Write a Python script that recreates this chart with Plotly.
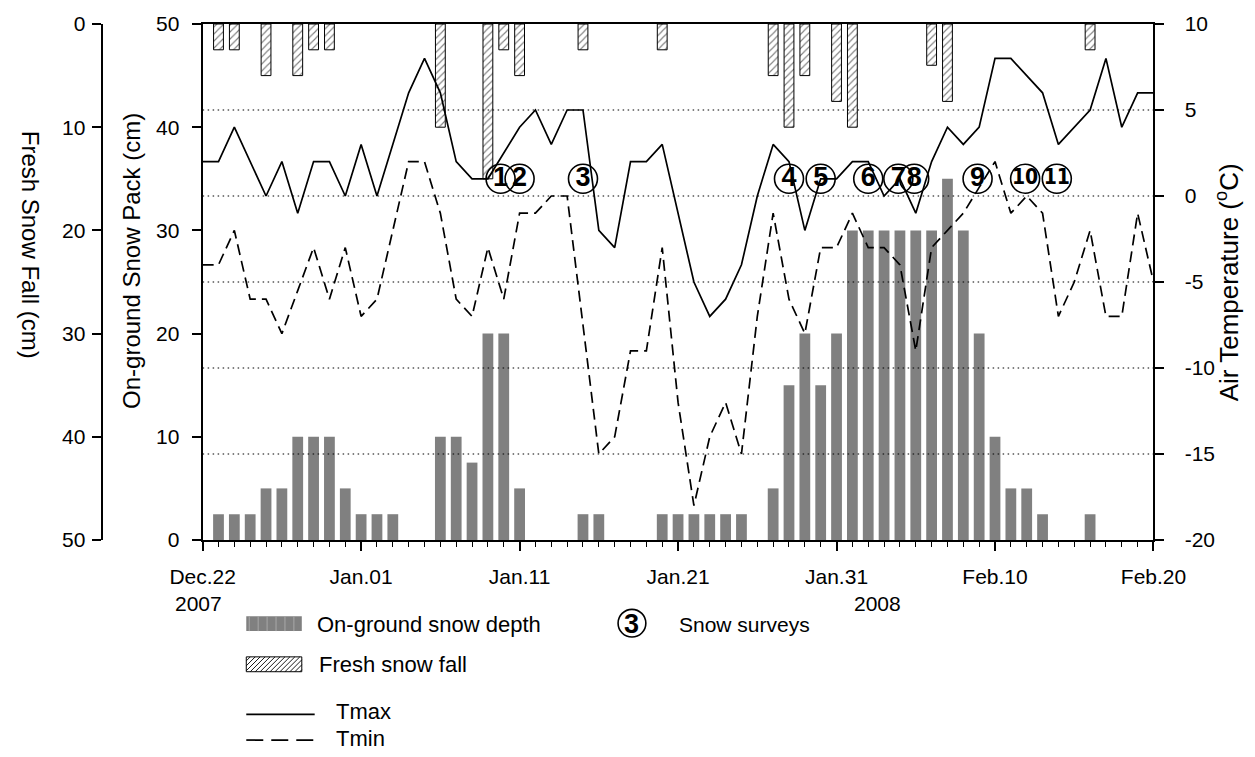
import plotly.graph_objects as go

# ---------------- data ----------------
day_index = list(range(61))  # 0 = Dec.22 2007 ... 60 = Feb.20 2008
date_tick_days = [0, 10, 20, 30, 40, 50, 60]
date_tick_labels = ["Dec.22", "Jan.01", "Jan.11", "Jan.21", "Jan.31", "Feb.10", "Feb.20"]

# on-ground snow depth (cm), one value per day
snow_depth = [0, 2.5, 2.5, 2.5, 5, 5, 10, 10, 10, 5, 2.5, 2.5, 2.5, 0, 0,
              10, 10, 7.5, 20, 20, 5, 0, 0, 0, 2.5, 2.5, 0, 0, 0,
              2.5, 2.5, 2.5, 2.5, 2.5, 2.5, 0,
              5, 15, 20, 15, 20, 30, 30, 30, 30, 30, 30, 35, 30, 20, 10, 5, 5, 2.5,
              0, 0, 2.5, 0, 0, 0, 0]

# fresh snow fall (cm), one value per day
fresh_snow = [0, 2.5, 2.5, 0, 5, 0, 5, 2.5, 2.5, 0,
              0, 0, 0, 0, 0, 10, 0, 0, 15, 2.5,
              5, 0, 0, 0, 2.5, 0, 0, 0, 0, 2.5,
              0, 0, 0, 0, 0, 0, 5, 10, 5, 0,
              7.5, 10, 0, 0, 0, 0, 4, 7.5, 0, 0,
              0, 0, 0, 0, 0, 0, 2.5, 0, 0, 0,
              0]

# daily air temperature (deg C)
t_max = [2, 2, 4, 2, 0, 2, -1, 2, 2, 0,
         3, 0, 3, 6, 8, 6, 2, 1, 1, 2.5,
         4, 5, 3, 5, 5, -2, -3, 2, 2, 3,
         -1, -5, -7, -6, -4, 0, 3, 2, -2, 1,
         1, 2, 2, 0, 1, -1, 2, 4, 3, 4,
         8, 8, 7, 6, 3, 4, 5, 8, 4, 6,
         6]
t_min = [-4, -4, -2, -6, -6, -8, -5.5, -3, -6, -3,
         -7, -6, -2, 2, 2, -1, -6, -7, -3, -6,
         -1, -1, 0, 0, -7.5, -15, -14, -9, -9, -3,
         -12, -18, -14, -12, -15, -7, -1, -6, -8, -3,
         -3, -1, -3, -3, -4, -9, -3, -2, -1, 0.5,
         2, -1, 0, -1, -7, -5, -2, -7, -7, -1,
         -5]

# snow surveys
survey_labels = ["1", "2", "3", "4", "5", "6", "7", "8", "9", "10", "11"]
survey_days = [18.8, 20, 24, 37, 39, 42, 43.9, 44.9, 48.9, 51.9, 53.9]
survey_temp = [1] * 11

pack_ticks = [0, 10, 20, 30, 40, 50]
fall_ticks = [0, 10, 20, 30, 40, 50]
temp_ticks = [10, 5, 0, -5, -10, -15, -20]
temp_grid = [5, 0, -5, -10, -15]

# ---------------- layout geometry ----------------
W, H = 1255, 757
ML, MR, MT, MB = 40, 40, 19, 217
PW = W - ML - MR
PH = H - MT - MB


def fx(px):
    return (px - ML) / PW


def fy(py):
    return (H - MB - py) / PH


X_DOM = [fx(199), fx(1158)]
FONT = "Liberation Sans, Arial, sans-serif"
NARROW = "Liberation Sans Narrow, DejaVu Sans Condensed, Liberation Sans, sans-serif"
TICK_SIZE = 21
KEY_SIZE = 22

fig = go.Figure()

depth_days = [d for d, v in zip(day_index, snow_depth) if v > 0]
depth_vals = [v for v in snow_depth if v > 0]
fig.add_trace(go.Bar(
    x=depth_days, y=depth_vals, width=0.68, yaxis="y",
    marker=dict(color="#808080", line=dict(width=0)),
))

fall_days = [d for d, v in zip(day_index, fresh_snow) if v > 0]
fall_vals = [v for v in fresh_snow if v > 0]
fig.add_trace(go.Bar(
    x=fall_days, y=fall_vals, width=0.62, yaxis="y2",
    marker=dict(color="white", line=dict(color="black", width=1),
                pattern=dict(shape="/", fgcolor="black", bgcolor="white",
                             size=5, solidity=0.22)),
))

fig.add_trace(go.Scatter(
    x=day_index, y=t_max, yaxis="y3", mode="lines",
    line=dict(color="black", width=1.7),
))
fig.add_trace(go.Scatter(
    x=day_index, y=t_min, yaxis="y3", mode="lines",
    line=dict(color="black", width=1.7, dash="11px,6px"),
))

fig.add_trace(go.Scatter(
    x=survey_days, y=survey_temp, yaxis="y3", mode="markers+text",
    text=["<b>%s</b>" % s for s in survey_labels],
    textposition="middle center",
    textfont=dict(family=[FONT if len(s) == 1 else NARROW for s in survey_labels],
                  color="black",
                  size=[27 if len(s) == 1 else 21 for s in survey_labels]),
    marker=dict(symbol="circle-open", size=29, color="black",
                line=dict(width=1.6, color="black")),
))

axis_common = dict(
    showline=True, linecolor="black", linewidth=2, ticks="outside",
    tickcolor="black", tickwidth=1.6, ticklen=9, showgrid=False,
    zeroline=False, tickfont=dict(family=FONT, size=TICK_SIZE, color="black"),
)

fig.update_layout(
    width=W, height=H,
    margin=dict(l=ML, r=MR, t=MT, b=MB),
    paper_bgcolor="white", plot_bgcolor="white",
    showlegend=False, barmode="overlay",
    xaxis=dict(
        domain=X_DOM, range=[0, 60], tickvals=date_tick_days,
        ticktext=date_tick_labels, mirror=True, ticklabelstandoff=8,
        minor=dict(dtick=1, tick0=0, ticks="outside", ticklen=5,
                   tickwidth=1.3, tickcolor="black", showgrid=False),
        **axis_common,
    ),
    yaxis=dict(
        range=[0, 50], tickvals=pack_ticks, anchor="x", side="left",
        ticklabelstandoff=8,
        **axis_common,
    ),
    yaxis2=dict(
        range=[50, 0], tickvals=fall_ticks, overlaying="y", anchor="free",
        position=fx(97), side="left", ticklabelstandoff=2,
        **axis_common,
    ),
    yaxis3=dict(
        range=[-20, 10], tickvals=temp_ticks,
        ticktext=[str(t) for t in temp_ticks], overlaying="y",
        anchor="x", side="right", ticklabelstandoff=16,
        **axis_common,
    ),
)

# dotted temperature reference lines
for t in temp_grid:
    fig.add_shape(type="line", xref="paper", yref="y3",
                  x0=X_DOM[0], x1=X_DOM[1], y0=t, y1=t, layer="above",
                  line=dict(color="black", width=1.2, dash="1.5px,3.5px"))


def note(text, px, py, size, xanchor="center", angle=0, bold=False):
    fig.add_annotation(text=("<b>%s</b>" % text) if bold else text,
                       x=fx(px), y=fy(py), xref="paper", yref="paper",
                       xanchor=xanchor, yanchor="middle", textangle=angle,
                       showarrow=False,
                       font=dict(family=FONT, size=size, color="black"))


# axis titles
note("Fresh Snow Fall (cm)", 25, 242, 24, angle=90)
note("On-ground Snow Pack (cm)", 127, 258, 24, angle=-90)
note("Air Temperature (<sup>o</sup>C)", 1233, 280, 26, angle=-90)

# year labels
note("2007", 195, 604, TICK_SIZE)
note("2008", 880, 604, TICK_SIZE)

# ---------------- key ----------------
sw_x0, sw_x1 = 243, 299
# snow depth swatch
fig.add_shape(type="rect", xref="paper", yref="paper", x0=fx(sw_x0), x1=fx(sw_x1),
              y0=fy(617), y1=fy(632), fillcolor="#808080", line=dict(width=0))
for sx in range(sw_x0 + 3, sw_x1, 9):
    fig.add_shape(type="line", xref="paper", yref="paper", x0=fx(sx), x1=fx(sx),
                  y0=fy(617), y1=fy(632), line=dict(color="#a8a8a8", width=1))
note("On-ground snow depth", 312, 625, KEY_SIZE, xanchor="left")

# fresh snow swatch (hatched)
hy0, hy1 = 658, 673
fig.add_shape(type="rect", xref="paper", yref="paper", x0=fx(sw_x0), x1=fx(sw_x1),
              y0=fy(hy0), y1=fy(hy1), fillcolor="white", line=dict(color="black", width=1))
hh = hy1 - hy0
for start in range(sw_x0 - hh + 4, sw_x1, 5):
    ax0, ay0 = start, hy1
    ax1, ay1 = start + hh, hy0
    if ax0 < sw_x0:
        ay0 = hy1 - (sw_x0 - ax0)
        ax0 = sw_x0
    if ax1 > sw_x1:
        ay1 = hy0 + (ax1 - sw_x1)
        ax1 = sw_x1
    if ax1 <= ax0:
        continue
    fig.add_shape(type="line", xref="paper", yref="paper", x0=fx(ax0), x1=fx(ax1),
                  y0=fy(ay0), y1=fy(ay1), line=dict(color="black", width=0.9))
note("Fresh snow fall", 314, 666, KEY_SIZE, xanchor="left")

# Tmax / Tmin keys
fig.add_shape(type="line", xref="paper", yref="paper", x0=fx(243), x1=fx(312),
              y0=fy(716), y1=fy(716), line=dict(color="black", width=1.7))
note("Tmax", 331, 713, KEY_SIZE, xanchor="left")
fig.add_shape(type="line", xref="paper", yref="paper", x0=fx(243), x1=fx(312),
              y0=fy(742), y1=fy(742), line=dict(color="black", width=1.7, dash="17px,8px"))
note("Tmin", 331, 740, KEY_SIZE, xanchor="left")

# snow survey key
fig.add_shape(type="circle", xref="paper", yref="paper", x0=fx(618), x1=fx(646),
              y0=fy(610), y1=fy(638), line=dict(color="black", width=1.6))
note("3", 632, 625, 27, bold=True)
note("Snow surveys", 677, 625, 21, xanchor="left")

fig.write_html("out.html")
